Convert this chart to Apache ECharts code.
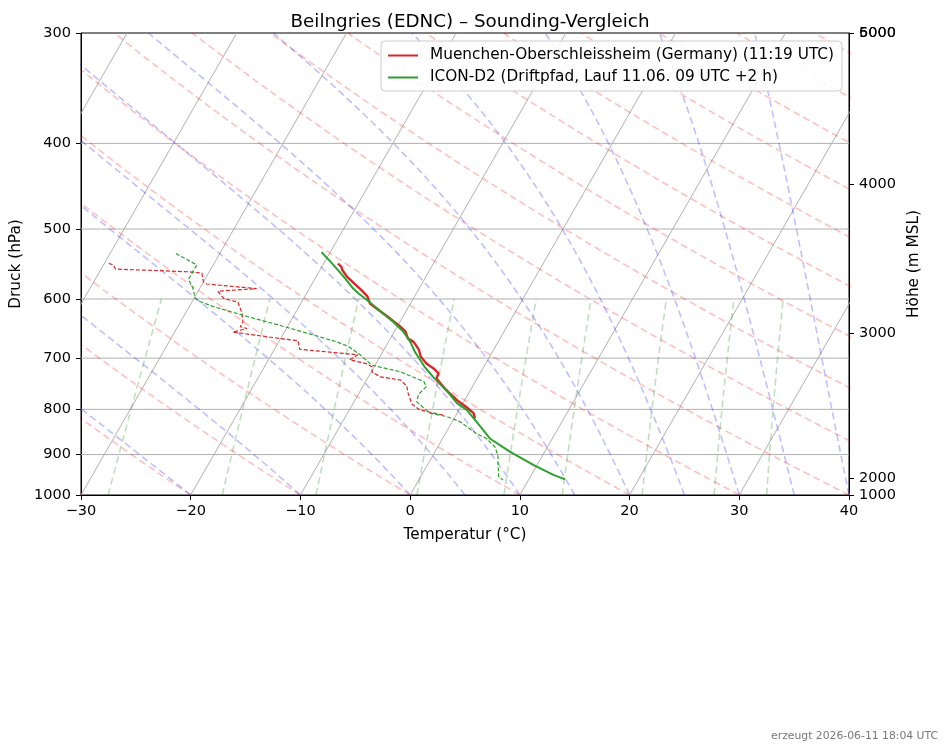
<!DOCTYPE html>
<html>
<head>
<meta charset="utf-8">
<title>Beilngries (EDNC) – Sounding-Vergleich</title>
<script src="https://cdn.jsdelivr.net/npm/echarts@6/dist/echarts.min.js"></script>
<style>
  html, body { margin: 0; padding: 0; background: #fff; }
  #chart { width: 948px; height: 755px; }
</style>
</head>
<body>
<div id="chart"></div>
<script>
// --- Aufstieg Muenchen-Oberschleissheim (11:19 UTC) ---
const obsName = 'Muenchen-Oberschleissheim (Germany) (11:19 UTC)'
const obsP  = [547, 552, 556, 566, 579, 586, 596, 607, 620, 631, 645, 653, 665, 671, 685, 697, 710, 719, 728, 738, 761, 781, 795, 808, 819]
const obsT  = [-18.7, -18.2, -18.0, -17.2, -15.9, -15.2, -14.3, -13.7, -12.3, -11.1, -9.7, -9.0, -8.4, -7.7, -6.8, -6.3, -5.4, -4.5, -3.8, -3.7, -2.2, -0.7, 0.5, 1.5, 1.9]
const obsTdP = [547, 549, 555, 559, 561, 574, 577, 584, 588, 599, 602, 605, 614, 624, 637, 645, 648, 654, 661, 669, 684, 694, 703, 710, 716, 726, 735, 741, 753, 765, 777, 789, 801, 812]
const obsTd  = [-39.6, -39.1, -38.7, -31.8, -30.6, -30.0, -29.6, -24.8, -28.2, -27.3, -26.6, -25.8, -25.3, -24.8, -24.3, -24.3, -23.6, -24.7, -21.8, -18.3, -17.7, -12.1, -12.6, -10.9, -10.2, -9.9, -8.9, -6.9, -6.0, -5.6, -5.1, -4.6, -3.6, -1.2]

// --- ICON-D2 Driftpfad ---
const iconName = 'ICON-D2 (Driftpfad, Lauf 11.06. 09 UTC +2 h)'
const iconP  = [531, 549, 566, 584, 591, 604, 620, 637, 653, 671, 688, 716, 735, 761, 787, 801, 826, 863, 893, 925, 949, 960]
const iconT  = [-20.8, -19.05, -17.5, -16.0, -15.3, -13.9, -12.3, -10.6, -9.2, -8.0, -7.1, -5.4, -4.1, -2.2, -0.55, 0.7, 2.2, 4.3, 6.8, 9.7, 12.0, 13.3]
const iconTdP = [533, 549, 558, 570, 584, 599, 604, 612, 628, 643, 659, 671, 679, 694, 713, 725, 744, 754, 769, 784, 808, 815, 826, 852, 863, 882, 901, 953, 962]
const iconTd  = [-34.0, -31.5, -31.5, -31.5, -30.6, -29.9, -29.3, -27.8, -24.2, -20.7, -17.2, -14.7, -13.4, -11.9, -10.3, -7.4, -4.7, -4.2, -4.5, -4.3, -2.5, -0.8, 0.7, 2.8, 4.0, 5.2, 5.9, 7.1, 7.7]

// --- Achsen ---
const pressureTicks = [300, 400, 500, 600, 700, 800, 900, 1000]
const heightLabels = [1000, 2000, 3000, 4000, 5000, 6000]
const heightLabelP = [1000, 956.7, 655.6, 444.6, 300, 300]

// --- Hintergrundlinien (Parameter) ---
const isotherms = [-60, -50, -40, -30, -20, -10, 0, 10, 20, 30, 40]
const dryThetas = [-30, -20, -10, 0, 10, 20, 30, 40, 50, 60, 70, 80, 90, 100, 110, 120, 130, 140, 150]
const moistT0 = [-20, -10, 0, 5, 10, 15, 20, 25, 30, 35, 40]
const mixingRatios = [0.4, 1, 2, 4, 7, 10, 16, 24, 32] // g/kg

const SKEW = 20.1
const skewX = (T, p) => T + SKEW * Math.log(1000 / p)

const Rd = 287.04749, Cp = 1004.6662, Lv = 2.50084e6, EPS = 0.62196
const levels = []
for (let p = 1000; p >= 300; p -= 10) levels.push(p)

const satVap = Tc => 6.112 * Math.exp(17.67 * Tc / (Tc + 243.5))
const moistDT = (p, Tk) => {
  const es = satVap(Tk - 273.15)
  const rs = EPS * es / (p - es)
  return (Rd * Tk + Lv * rs) / (Cp + Lv * Lv * rs * EPS / (Rd * Tk * Tk)) / p
}

const bgLine = (name, data, color, dashed, width, z) => ({
  name, type: 'line', data, symbol: 'none', silent: true, z,
  lineStyle: { color, width, type: dashed ? [7, 4] : 'solid' }
})

const series = []

pressureTicks.slice(1, -1).forEach(p => {
  series.push(bgLine('isobar', [[-30, p], [40, p]], '#b0b0b0', false, 1, 1))
})
isotherms.forEach(t => {
  series.push(bgLine('iso', [[skewX(t, 1000), 1000], [skewX(t, 300), 300]], '#a8a8a8', false, 0.9, 1))
})
dryThetas.forEach(th => {
  const data = levels.map(p => [skewX((th + 273.15) * Math.pow(p / 1000, Rd / Cp) - 273.15, p), p])
  series.push(bgLine('dry', data, 'rgba(255,0,0,0.25)', true, 1.6, 2))
})
moistT0.forEach(t0 => {
  let T = t0 + 273.15
  const data = [[skewX(t0, 1000), 1000]]
  for (let i = 1; i < levels.length; i++) {
    const p = levels[i - 1], h = levels[i] - p
    const k1 = moistDT(p, T)
    const k2 = moistDT(p + h / 2, T + h * k1 / 2)
    const k3 = moistDT(p + h / 2, T + h * k2 / 2)
    const k4 = moistDT(p + h, T + h * k3)
    T += h * (k1 + 2 * k2 + 2 * k3 + k4) / 6
    data.push([skewX(T - 273.15, levels[i]), levels[i]])
  }
  series.push(bgLine('moist', data, 'rgba(0,0,255,0.25)', true, 1.6, 2))
})
mixingRatios.forEach(w => {
  const data = levels.filter(p => p >= 600).map(p => {
    const e = p * (w / 1000) / (EPS + w / 1000)
    const l = Math.log(e / 6.112)
    return [skewX(243.5 * l / (17.67 - l), p), p]
  })
  series.push(bgLine('mix', data, 'rgba(0,128,0,0.25)', true, 1.6, 2))
})

const profile = (name, ps, ts, color, width, dashed) => ({
  name, type: 'line', symbol: 'none', z: 5,
  data: ps.map((p, i) => [skewX(ts[i], p), p]),
  lineStyle: { color, width, type: dashed ? [4, 2] : 'solid' },
  itemStyle: { color }
})
series.push(profile(obsName, obsP, obsT, '#d62728', 2.4, false))
series.push(profile(iconName, iconP, iconT, '#2ca02c', 2, false))
series.push(profile('obsTd', obsTdP, obsTd, '#d62728', 1.2, true))
series.push(profile('iconTd', iconTdP, iconTd, '#2ca02c', 1.2, true))

const nearestIdx = v => {
  let best = 0
  heightLabelP.forEach((p, i) => { if (Math.abs(p - v) < Math.abs(heightLabelP[best] - v)) best = i })
  return best
}

const FS = 15.3   // Legende, Achsentitel
const TS = 14.5   // Tick-Beschriftung
const yBase = {
  type: 'log', logBase: 10, min: 300, max: 1000, inverse: true,
  splitLine: { show: false }, minorTick: { show: false }
}

const chart = echarts.init(document.getElementById('chart'))
chart.setOption({
  animation: false,
  textStyle: { fontFamily: 'DejaVu Sans' },
  title: [
    { text: 'Beilngries (EDNC) – Sounding-Vergleich', left: 465, textAlign: 'center', top: 8,
      textStyle: { fontSize: 18.3, fontWeight: 'normal', color: '#000' } },
    { text: 'erzeugt 2026-06-11 18:04 UTC', right: 5, bottom: 8,
      textStyle: { fontSize: 10.8, fontWeight: 'normal', color: '#777' } }
  ],
  legend: {
    data: [obsName, iconName],
    icon: 'rect',
    orient: 'vertical', right: 106, top: 41,
    itemWidth: 30, itemHeight: 2, itemGap: 7,
    padding: [7, 8, 6, 7],
    backgroundColor: 'rgba(255,255,255,0.85)',
    borderColor: '#cccccc', borderWidth: 1, borderRadius: 4,
    textStyle: { fontSize: FS, color: '#000', padding: [0, 0, 0, 7] }
  },
  grid: { left: 81, right: 99, top: 33, bottom: 260, show: true, borderColor: '#000', borderWidth: 1 },
  xAxis: {
    type: 'value', min: -30, max: 40, interval: 10,
    name: 'Temperatur (°C)', nameLocation: 'middle', nameGap: 33,
    nameTextStyle: { fontSize: FS, color: '#000' },
    axisLine: { onZero: false, lineStyle: { color: '#000' } },
    axisTick: { length: 5, lineStyle: { color: '#000' } },
    axisLabel: { fontSize: TS, color: '#000', margin: 9, formatter: v => String(v).replace('-', '−') },
    splitLine: { show: false }
  },
  yAxis: [
    Object.assign({}, yBase, {
      position: 'left',
      name: 'Druck (hPa)', nameLocation: 'middle', nameGap: 51, nameRotate: 90,
      nameTextStyle: { fontSize: FS, color: '#000' },
      axisLine: { show: true, onZero: false, lineStyle: { color: '#000' } },
      axisTick: { show: true, length: 5, customValues: pressureTicks, lineStyle: { color: '#000' } },
      axisLabel: { fontSize: TS, color: '#000', margin: 10, customValues: pressureTicks,
        formatter: v => String(Math.round(v)) }
    }),
    Object.assign({}, yBase, {
      position: 'right',
      name: 'Höhe (m MSL)', nameLocation: 'middle', nameGap: 50, nameRotate: 90,
      nameTextStyle: { fontSize: FS, color: '#000' },
      axisLine: { show: true, onZero: false, lineStyle: { color: '#000' } },
      axisTick: { show: true, length: 5, customValues: heightLabelP.slice(0, 5), lineStyle: { color: '#000' } },
      axisLabel: { fontSize: TS, color: '#000', margin: 10, customValues: heightLabelP.slice(0, 5),
        formatter: v => String(heightLabels[nearestIdx(v)]) }
    }),
    Object.assign({}, yBase, {
      position: 'right',
      axisLine: { show: false, onZero: false },
      axisTick: { show: true, length: 5, customValues: [heightLabelP[5]], lineStyle: { color: '#000' } },
      axisLabel: { fontSize: TS, color: '#000', margin: 10, customValues: [heightLabelP[5]],
        formatter: () => String(heightLabels[5]) }
    })
  ],
  series
})
</script>
</body>
</html>
